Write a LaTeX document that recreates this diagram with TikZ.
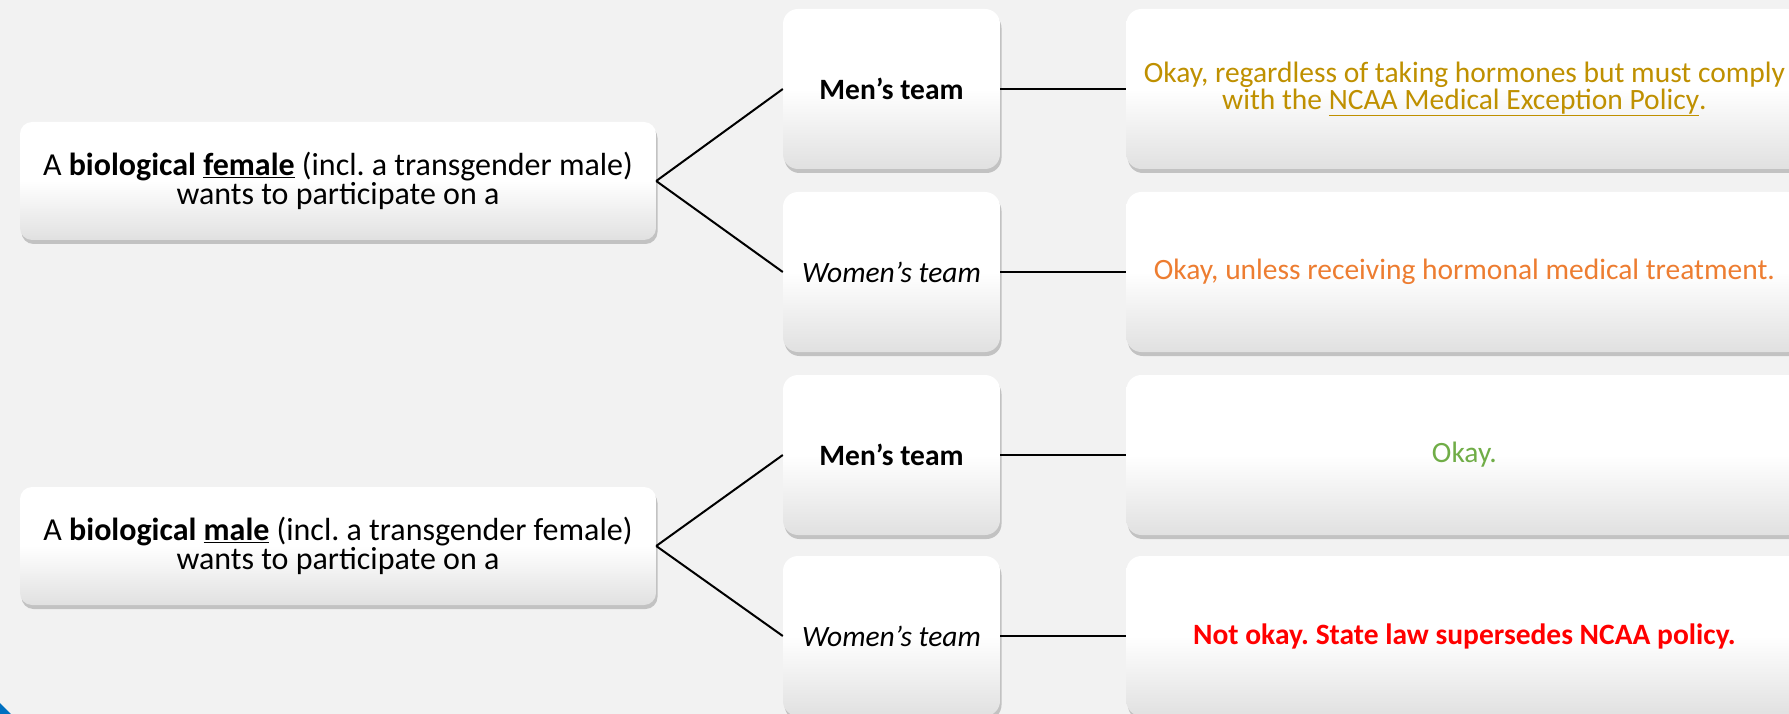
\documentclass[tikz,border=0pt]{standalone}
\usepackage{fontspec}
\setmainfont{Carlito}
\frenchspacing
\usetikzlibrary{positioning,shadows}

\definecolor{slidebg}{RGB}{242,242,242}
\definecolor{gold}{RGB}{191,144,0}
\definecolor{okorange}{RGB}{237,125,49}
\definecolor{okgreen}{RGB}{112,173,71}
\definecolor{slideblue}{RGB}{0,112,192}

\tikzset{
	card/.style={rounded corners=12pt,top color=white,bottom color=black!12,middle color=white,
		drop shadow={shadow xshift=1.5pt,shadow yshift=-4pt,opacity=.25,fill=black!80},
		align=center,font=\fontsize{29.5}{27}\selectfont,inner sep=0pt},
	who/.style={card,minimum width=636pt,minimum height=118pt,font=\fontsize{32}{27}\selectfont},
	team/.style={card,rounded corners=15pt,minimum width=217pt,minimum height=160pt},
	rule/.style={card,rounded corners=15pt,minimum width=676pt,minimum height=160pt,right=126pt of #1},
	link/.style={line width=2pt,black}
}

\begin{document}
\begin{tikzpicture}[x=1pt,y=-1pt]
	\useasboundingbox (0,0) rectangle (1789,714);
	\clip (0,0) rectangle (1789,714);
	\fill[slidebg] (0,0) rectangle (1789,714);
	\fill[slideblue] (0,703) -- (11,714) -- (0,714) -- cycle;

	\node[who](female) at (338,181){A \textbf{biological} \textbf{\underline{female}} (incl. a transgender male)\\wants to participate on a};
	\node[who](male) at (338,546){A \textbf{biological} \textbf{\underline{male}} (incl. a transgender female)\\wants to participate on a};

	\node[team](menF) at (891.5,89){\textbf{Men’s team}};
	\node[team](womenF) at (891.5,272){\textit{Women’s team}};
	\node[team](menM) at (891.5,455){\textbf{Men’s team}};
	\node[team](womenM) at (891.5,636){\textit{Women’s team}};

	\node[rule=menF,text=gold](ruleMF){Okay, regardless of taking hormones but must comply\\with the \underline{NCAA Medical Exception Policy}.};
	\node[rule=womenF,text=okorange](ruleWF){Okay, unless receiving hormonal medical treatment.};
	\node[rule=menM,text=okgreen](ruleMM){Okay.};
	\node[rule=womenM,text=red](ruleWM){\textbf{Not okay. State law supersedes NCAA policy.}};

	\draw[link] (female.east) -- (menF.west);
	\draw[link] (female.east) -- (womenF.west);
	\draw[link] (male.east) -- (menM.west);
	\draw[link] (male.east) -- (womenM.west);
	\draw[link] (menF) -- (ruleMF);
	\draw[link] (womenF) -- (ruleWF);
	\draw[link] (menM) -- (ruleMM);
	\draw[link] (womenM) -- (ruleWM);
\end{tikzpicture}
\end{document}
